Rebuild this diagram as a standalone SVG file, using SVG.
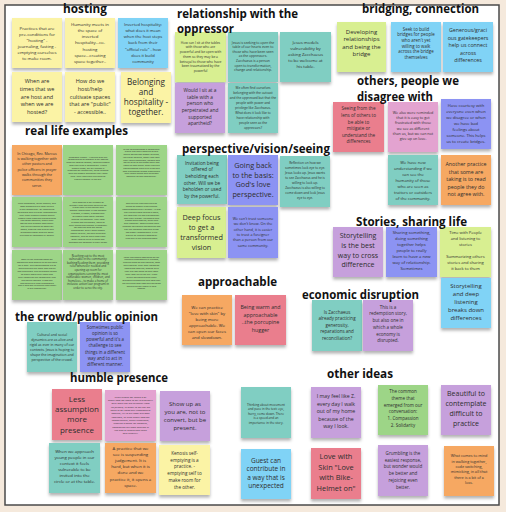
<svg xmlns="http://www.w3.org/2000/svg" width="506" height="512" viewBox="0 0 506 512">
<defs>
<filter id="sh" x="-20%" y="-20%" width="140%" height="150%">
<feDropShadow dx="0" dy="2.5" stdDeviation="1.6" flood-color="#000" flood-opacity="0.3"/>
</filter>
<style>
.n rect{filter:url(#sh)}
.y{fill:#fbf3a5}.b{fill:#80d3f6}.g{fill:#9dd587}.lg{fill:#d8ef91}.o{fill:#f6a862}
.t{fill:#80cec2}.p{fill:#c6a0dc}.pw{fill:#8c93f3}.r{fill:#ea7e8d}.pk{fill:#e3a3d0}
.tx{font-family:"Open Sans","Liberation Sans",sans-serif;fill:#2e2e2e;text-anchor:middle;dominant-baseline:central}
.h{font-family:"Open Sans","Liberation Sans",sans-serif;font-weight:700;font-size:11.7px;fill:#111}
</style>
</defs>
<rect x="0" y="0" width="506" height="512" fill="#f5e9dc"/>
<rect x="5" y="5" width="494" height="500" fill="#ffffff" stroke="#4a4a4a" stroke-width="1.5"/>

<!-- hosting -->
<g id="h1" class="n"><rect class="y" x="12" y="18" width="50" height="50"/>
<text class="tx" font-size="4.3"><tspan x="37" y="27.5">Practices that are</tspan><tspan x="37" y="33.5">pre-conditions for</tspan><tspan x="37" y="39.5">"hosting" -</tspan><tspan x="37" y="45.5">journaling, fasting -</tspan><tspan x="37" y="51.5">emptying ourselves</tspan><tspan x="37" y="57.5">to make room.</tspan></text></g>
<g id="h2" class="n"><rect class="y" x="65" y="18" width="50" height="50"/>
<text class="tx" font-size="4.3"><tspan x="90" y="24.3">Humanity meets in</tspan><tspan x="90" y="30.3">the space of</tspan><tspan x="90" y="36.4">inverted</tspan><tspan x="90" y="42.4">hospitality...co-</tspan><tspan x="90" y="48.5">hosting</tspan><tspan x="90" y="54.5">space...creating</tspan><tspan x="90" y="60.6">space together..</tspan></text></g>
<g id="h3" class="n"><rect class="b" x="118" y="18" width="50" height="50"/>
<text class="tx" font-size="4.1"><tspan x="143" y="24.3">Inverted hospitality:</tspan><tspan x="143" y="30.3">what does it mean</tspan><tspan x="143" y="36.4">when the host steps</tspan><tspan x="143" y="42.4">back from their</tspan><tspan x="143" y="48.5">"official role" - how</tspan><tspan x="143" y="54.5">does it build</tspan><tspan x="143" y="60.6">community</tspan></text></g>
<g id="h4" class="n"><rect class="y" x="12" y="72" width="50" height="50"/>
<text class="tx" font-size="5.5"><tspan x="37" y="80.7">When are</tspan><tspan x="37" y="88.6">times that we</tspan><tspan x="37" y="96.5">are host and</tspan><tspan x="37" y="104.4">when we are</tspan><tspan x="37" y="112.3">hosted?</tspan></text></g>
<g id="h5" class="n"><rect class="y" x="65" y="72" width="50" height="50"/>
<text class="tx" font-size="5.5"><tspan x="90" y="80.7">How do we</tspan><tspan x="90" y="88.6">host/help</tspan><tspan x="90" y="96.5">cultivate spaces</tspan><tspan x="90" y="104.4">that are "public"</tspan><tspan x="90" y="112.3">- accessible..</tspan></text></g>
<g id="h6" class="n"><rect class="y" x="121" y="72" width="50" height="51"/>
<text class="tx" font-size="8.2"><tspan x="146" y="81">Belonging</tspan><tspan x="146" y="90.9">and</tspan><tspan x="146" y="100.8">hospitality -</tspan><tspan x="146" y="110.7">together.</tspan></text></g>

<!-- real life examples -->
<g id="r1" class="n"><rect class="o" x="12" y="145" width="50" height="50"/>
<text class="tx" font-size="3.6"><tspan x="37" y="152.7">In Chicago, Rev. Marcus</tspan><tspan x="37" y="158">is walking together with</tspan><tspan x="37" y="163.3">other pastors and</tspan><tspan x="37" y="168.6">police officers in prayer</tspan><tspan x="37" y="173.9">walks through the</tspan><tspan x="37" y="179.2">communities they</tspan><tspan x="37" y="184.5">serve.</tspan></text></g>
<g id="r2" class="n"><rect class="g" x="63" y="145" width="50" height="50"/>
<text class="tx" font-size="2.3"><tspan x="88" y="156.7">Relational Center - Working with the</tspan><tspan x="88" y="159.45">communities to discover &amp; tell stories</tspan><tspan x="88" y="162.2">through hosting spaces, listening people</tspan><tspan x="88" y="164.95">who can't find a connection. Where</tspan><tspan x="88" y="167.7">people know, we will engage a</tspan><tspan x="88" y="170.45">program on reconciling, being present</tspan><tspan x="88" y="173.2">with the people whenever they need</tspan><tspan x="88" y="175.95">help. They also have churches to</tspan><tspan x="88" y="178.7">ensure nobody is left out.</tspan></text></g>
<g id="r3" class="n"><rect class="g" x="116" y="145" width="51" height="50"/>
<text class="tx" font-size="2.3"><tspan x="141.5" y="148.5">In the neighborhood a community</tspan><tspan x="141.5" y="151.25">group has been meeting to talk</tspan><tspan x="141.5" y="154">about issues that matter to them,</tspan><tspan x="141.5" y="156.75">including housing, safety and jobs.</tspan><tspan x="141.5" y="159.5">They invite neighbors, leaders and</tspan><tspan x="141.5" y="162.25">police to sit at the same table and</tspan><tspan x="141.5" y="165">listen to each other. Over time the</tspan><tspan x="141.5" y="167.75">conversations have built trust and</tspan><tspan x="141.5" y="170.5">new friendships across differences.</tspan><tspan x="141.5" y="173.25">They share meals and celebrate</tspan><tspan x="141.5" y="176">together as one community.</tspan></text></g>
<g id="r4" class="n"><rect class="g" x="12" y="197" width="50" height="50"/>
<text class="tx" font-size="2.3"><tspan x="37" y="203">Faith advocates, youth leaders, and</tspan><tspan x="37" y="205.9">staff members at a local church</tspan><tspan x="37" y="208.8">in the community. By listening to</tspan><tspan x="37" y="211.7">neighbors and building relationships</tspan><tspan x="37" y="214.6">they have created a space where</tspan><tspan x="37" y="217.5">people from different backgrounds</tspan><tspan x="37" y="220.4">can come together, share their</tspan><tspan x="37" y="223.3">stories and support each other.</tspan><tspan x="37" y="226.2">The church opens its doors for</tspan><tspan x="37" y="229.1">meals, tutoring and prayer and</tspan><tspan x="37" y="232">welcomes those who are often</tspan><tspan x="37" y="234.9">excluded or forgotten by others.</tspan></text></g>
<g id="r5" class="n"><rect class="g" x="63" y="197" width="50" height="50"/>
<text class="tx" font-size="2.3"><tspan x="88" y="201.7">This account is for a shape of</tspan><tspan x="88" y="204.55">ministry that has been going on for</tspan><tspan x="88" y="207.4">a long time in the border and</tspan><tspan x="88" y="210.25">among immigrants. It has become</tspan><tspan x="88" y="213.1">a school, a home, a community</tspan><tspan x="88" y="215.95">of people from many nations</tspan><tspan x="88" y="218.8">sharing life together. They host</tspan><tspan x="88" y="221.65">friends and neighbors, listen to</tspan><tspan x="88" y="224.5">their needs and engage in advocacy</tspan><tspan x="88" y="227.35">for families who are facing</tspan><tspan x="88" y="230.2">deportation. Every week people</tspan><tspan x="88" y="233.05">gather to pray, eat and celebrate</tspan><tspan x="88" y="235.9">together, and to learn from each</tspan><tspan x="88" y="238.75">other how to build bridges and</tspan><tspan x="88" y="241.6">welcome the stranger in their midst.</tspan></text></g>
<g id="r6" class="n"><rect class="g" x="116" y="197" width="51" height="50"/>
<text class="tx" font-size="2.3"><tspan x="141.5" y="203">One church has been serving</tspan><tspan x="141.5" y="205.9">meals to people experiencing</tspan><tspan x="141.5" y="208.8">homelessness every Sunday. At first</tspan><tspan x="141.5" y="211.7">they served from behind a table,</tspan><tspan x="141.5" y="214.6">but now they sit and eat together</tspan><tspan x="141.5" y="217.5">with their guests. Volunteers and</tspan><tspan x="141.5" y="220.4">guests share stories, laugh and</tspan><tspan x="141.5" y="223.3">pray together. Some guests have</tspan><tspan x="141.5" y="226.2">become volunteers themselves and</tspan><tspan x="141.5" y="229.1">the line between host and guest</tspan><tspan x="141.5" y="232">has slowly disappeared. It is a</tspan><tspan x="141.5" y="234.9">picture of inverted hospitality</tspan><tspan x="141.5" y="237.8">lived out in the neighborhood.</tspan></text></g>
<g id="r7" class="n"><rect class="g" x="12" y="250" width="50" height="50"/>
<text class="tx" font-size="2.3"><tspan x="37" y="259.3">Back in the neighborhood we</tspan><tspan x="37" y="262.2">wondered who should be at the table</tspan><tspan x="37" y="265.1">for a walk. The conversations led to</tspan><tspan x="37" y="268">walks around the block with police</tspan><tspan x="37" y="270.9">and neighbors. The neighbors began</tspan><tspan x="37" y="273.8">to share about their fears and</tspan><tspan x="37" y="276.7">their hopes for the community and</tspan><tspan x="37" y="279.6">the police listened. It was the</tspan><tspan x="37" y="282.5">beginning of a new relationship</tspan><tspan x="37" y="285.4">and a new way of seeing each other</tspan><tspan x="37" y="288.3">in our community.</tspan></text></g>
<g id="r8" class="n"><rect class="g" x="63" y="250" width="50" height="50"/>
<text class="tx" font-size="2.8"><tspan x="88" y="255.5">Reaching out to the most</tspan><tspan x="88" y="259.1">vulnerable in the community:</tspan><tspan x="88" y="262.7">bathing/feeding them, providing</tspan><tspan x="88" y="266.3">relief whenever needed and</tspan><tspan x="88" y="269.9">opening up room for</tspan><tspan x="88" y="273.5">organizations serving the most</tspan><tspan x="88" y="277.1">vulnerable: women, children, and</tspan><tspan x="88" y="280.7">homeless... to make a home of</tspan><tspan x="88" y="284.3">inclusive action (our program) in</tspan><tspan x="88" y="287.9">order to serve the city.</tspan></text></g>
<g id="r9" class="n"><rect class="g" x="116" y="250" width="51" height="50"/>
<text class="tx" font-size="2.3"><tspan x="141.5" y="256.5">Local volunteers attending to the</tspan><tspan x="141.5" y="259.4">needs of newcomers in Chicago,</tspan><tspan x="141.5" y="262.3">helping them to find housing, food</tspan><tspan x="141.5" y="265.2">and clothing. They walk alongside</tspan><tspan x="141.5" y="268.1">immigrant families, making sure</tspan><tspan x="141.5" y="271">they are not alone as they start</tspan><tspan x="141.5" y="273.9">their new life in the city. Many</tspan><tspan x="141.5" y="276.8">of the volunteers were once</tspan><tspan x="141.5" y="279.7">strangers themselves and now they</tspan><tspan x="141.5" y="282.6">are the ones who host and welcome</tspan><tspan x="141.5" y="285.5">others as they settle in new</tspan><tspan x="141.5" y="288.4">spaces.</tspan></text></g>

<!-- relationship with the oppressor -->
<g id="rel1" class="n"><rect class="lg" x="175" y="32" width="51" height="50"/>
<text class="tx" font-size="3.3"><tspan x="200.5" y="41.7">How can I sit at the tables</tspan><tspan x="200.5" y="46.4">with those who are</tspan><tspan x="200.5" y="51.1">powerful and be open with</tspan><tspan x="200.5" y="55.8">them so they may be a</tspan><tspan x="200.5" y="60.5">betrayal to those who have</tspan><tspan x="200.5" y="65.2">been traumatized by the</tspan><tspan x="200.5" y="69.9">powerful</tspan></text></g>
<g id="rel2" class="n"><rect class="t" x="228" y="32" width="50" height="50"/>
<text class="tx" font-size="3.3"><tspan x="253" y="41.5">Jesus is seeking to open the</tspan><tspan x="253" y="46.1">table of our hearts even to</tspan><tspan x="253" y="50.7">those who have been seen</tspan><tspan x="253" y="55.3">as the oppressors.</tspan><tspan x="253" y="59.9">Zacchaeus is a person</tspan><tspan x="253" y="64.5">open to transformation,</tspan><tspan x="253" y="69.1">change and relationship.</tspan></text></g>
<g id="rel3" class="n"><rect class="t" x="280" y="32" width="51" height="50"/>
<text class="tx" font-size="4.3"><tspan x="305.5" y="41.7">Jesus models</tspan><tspan x="305.5" y="47.8">vulnerability by</tspan><tspan x="305.5" y="53.9">asking Zacchaeus</tspan><tspan x="305.5" y="60">to be welcome at</tspan><tspan x="305.5" y="66.1">his table.</tspan></text></g>
<g id="rel4" class="n"><rect class="p" x="175" y="83" width="50" height="50"/>
<text class="tx" font-size="4.8"><tspan x="200" y="90">Would I sit at a</tspan><tspan x="200" y="96.65">table with a</tspan><tspan x="200" y="103.3">person who</tspan><tspan x="200" y="109.95">perpetrated and</tspan><tspan x="200" y="116.6">supported</tspan><tspan x="200" y="123.25">apartheid?</tspan></text></g>
<g id="rel5" class="n"><rect class="t" x="228" y="83" width="50" height="50"/>
<text class="tx" font-size="3.2"><tspan x="253" y="88.3">We often find ourselves</tspan><tspan x="253" y="93.2">belonging with the outcast</tspan><tspan x="253" y="98.1">and the oppressed but that the</tspan><tspan x="253" y="103">people with power and</tspan><tspan x="253" y="107.9">privilege like Zacchaeus.</tspan><tspan x="253" y="112.8">What does it look like to</tspan><tspan x="253" y="117.7">have relationship with</tspan><tspan x="253" y="122.6">people seen as the</tspan><tspan x="253" y="127.5">oppressors?</tspan></text></g>

<!-- bridging, connection -->
<g id="b1" class="n"><rect class="lg" x="337" y="22" width="49" height="50"/>
<text class="tx" font-size="6"><tspan x="361.5" y="31.7">Developing</tspan><tspan x="361.5" y="39.15">relationships</tspan><tspan x="361.5" y="46.6">and being the</tspan><tspan x="361.5" y="54.05">bridge</tspan></text></g>
<g id="b2" class="n"><rect class="b" x="391" y="22" width="50" height="50"/>
<text class="tx" font-size="4.4"><tspan x="416" y="28.7">Seek to build</tspan><tspan x="416" y="34.3">bridges for people</tspan><tspan x="416" y="39.9">who aren't yet</tspan><tspan x="416" y="45.5">willing to walk</tspan><tspan x="416" y="51.1">across the bridge</tspan><tspan x="416" y="56.7">themselves</tspan></text></g>
<g id="b3" class="n"><rect class="b" x="443" y="22" width="50" height="50"/>
<text class="tx" font-size="5.3"><tspan x="468" y="30">Generous/graci</tspan><tspan x="468" y="37.5">ous gatekeepers</tspan><tspan x="468" y="45">help us connect</tspan><tspan x="468" y="52.5">across</tspan><tspan x="468" y="60">differences</tspan></text></g>

<!-- others -->
<g id="o1" class="n"><rect class="r" x="333" y="102" width="51" height="50"/>
<text class="tx" font-size="4.6"><tspan x="358.5" y="108.3">Seeing from the</tspan><tspan x="358.5" y="114.9">lens of others to</tspan><tspan x="358.5" y="121.5">be able to</tspan><tspan x="358.5" y="128.1">mitigate or</tspan><tspan x="358.5" y="134.7">understand the</tspan><tspan x="358.5" y="141.3">differences</tspan></text></g>
<g id="o2" class="n"><rect class="pk" x="388" y="102" width="50" height="50"/>
<text class="tx" font-size="3.7"><tspan x="413" y="111.7">We also were reminded</tspan><tspan x="413" y="117">that it is easy to get</tspan><tspan x="413" y="122.3">frustrated with those</tspan><tspan x="413" y="127.6">we see as different</tspan><tspan x="413" y="132.9">than us, but we can not</tspan><tspan x="413" y="138.2">give up on love.</tspan></text></g>
<g id="o3" class="n"><rect class="pw" x="441" y="99" width="50" height="50"/>
<text class="tx" font-size="4.1"><tspan x="466" y="105">Have courtesy with</tspan><tspan x="466" y="111">everyone even when</tspan><tspan x="466" y="117">we disagree or when</tspan><tspan x="466" y="123">we have bad</tspan><tspan x="466" y="129">feelings about</tspan><tspan x="466" y="135">someone. This helps</tspan><tspan x="466" y="141">us to create bridges.</tspan></text></g>
<g id="o4" class="n"><rect class="t" x="388" y="155" width="50" height="50"/>
<text class="tx" font-size="4.1"><tspan x="413" y="161.7">We have new</tspan><tspan x="413" y="167.7">understanding if we</tspan><tspan x="413" y="173.7">can see the</tspan><tspan x="413" y="179.7">humanity of those</tspan><tspan x="413" y="185.7">who are seen as</tspan><tspan x="413" y="191.7">traitors or outsiders</tspan><tspan x="413" y="197.7">of the community.</tspan></text></g>
<g id="o5" class="n"><rect class="o" x="441" y="155" width="50" height="50"/>
<text class="tx" font-size="5.3"><tspan x="466" y="164">Another practice</tspan><tspan x="466" y="171.5">that some are</tspan><tspan x="466" y="179">taking is to read</tspan><tspan x="466" y="186.5">people they do</tspan><tspan x="466" y="194">not agree with.</tspan></text></g>

<!-- perspective -->
<g id="p1" class="n"><rect class="t" x="177" y="155" width="50" height="49"/>
<text class="tx" font-size="4.7"><tspan x="202" y="162.7">Invitation being</tspan><tspan x="202" y="169.35">offered of</tspan><tspan x="202" y="176">beholding each</tspan><tspan x="202" y="182.65">other.  Will we be</tspan><tspan x="202" y="189.3">beholden or used</tspan><tspan x="202" y="195.95">by the powerful.</tspan></text></g>
<g id="p2" class="n"><rect class="pw" x="228" y="155" width="50" height="50"/>
<text class="tx" font-size="7.3"><tspan x="253" y="164.7">Going back</tspan><tspan x="253" y="174.5">to the basis:</tspan><tspan x="253" y="184.3">God's love</tspan><tspan x="253" y="194.1">perspective.</tspan></text></g>
<g id="p3" class="n"><rect class="t" x="280" y="156" width="50" height="51"/>
<text class="tx" font-size="3.2"><tspan x="305" y="162.7">Reflection on how we</tspan><tspan x="305" y="167.7">sometimes look eye to eye.</tspan><tspan x="305" y="172.7">Jesus looks up. Jesus wants</tspan><tspan x="305" y="177.7">to see Zacchaeus and he is</tspan><tspan x="305" y="182.7">willing to look up.</tspan><tspan x="305" y="187.7">Zacchaeus is also willing to</tspan><tspan x="305" y="192.7">come down and look Jesus</tspan><tspan x="305" y="197.7">eye to eye.</tspan></text></g>
<g id="p4" class="n"><rect class="lg" x="177" y="207" width="49" height="51"/>
<text class="tx" font-size="7.3"><tspan x="201.5" y="216.7">Deep focus</tspan><tspan x="201.5" y="226.7">to get a</tspan><tspan x="201.5" y="236.7">transformed</tspan><tspan x="201.5" y="246.7">vision</tspan></text></g>
<g id="p5" class="n"><rect class="pw" x="228" y="207" width="50" height="51"/>
<text class="tx" font-size="3.7"><tspan x="253" y="217.7">We can't trust someone</tspan><tspan x="253" y="223.1">we don't know. On the</tspan><tspan x="253" y="228.5">other hand, it is easier</tspan><tspan x="253" y="233.9">to trust a foreigner</tspan><tspan x="253" y="239.3">than a person from our</tspan><tspan x="253" y="244.7">same community.</tspan></text></g>

<!-- stories -->
<g id="s1" class="n"><rect class="p" x="333" y="227" width="50" height="50"/>
<text class="tx" font-size="7"><tspan x="358" y="235">Storytelling</tspan><tspan x="358" y="244.8">is the best</tspan><tspan x="358" y="254.6">way to cross</tspan><tspan x="358" y="264.4">difference</tspan></text></g>
<g id="s2" class="n"><rect class="pw" x="386" y="227" width="51" height="50"/>
<text class="tx" font-size="4.2"><tspan x="411.5" y="231.7">Sharing something,</tspan><tspan x="411.5" y="237.8">doing something</tspan><tspan x="411.5" y="243.9">together helps</tspan><tspan x="411.5" y="250">people to really</tspan><tspan x="411.5" y="256.1">learn to have a new</tspan><tspan x="411.5" y="262.2">way of relationship.</tspan><tspan x="411.5" y="268.3">Sometimes</tspan></text></g>
<g id="s3" class="n"><rect class="lg" x="440" y="227" width="51" height="50"/>
<text class="tx" font-size="4.1"><tspan x="465.5" y="231.7">Time with People</tspan><tspan x="465.5" y="237.7">and listening to</tspan><tspan x="465.5" y="243.7">stories</tspan><tspan x="465.5" y="255.7">Summarizing others</tspan><tspan x="465.5" y="261.7">stories and sharing</tspan><tspan x="465.5" y="267.7">it back to them</tspan></text></g>
<g id="s4" class="n"><rect class="b" x="441" y="278" width="50" height="50"/>
<text class="tx" font-size="6"><tspan x="466" y="285.7">Storytelling</tspan><tspan x="466" y="293.7">and deep</tspan><tspan x="466" y="301.7">listening</tspan><tspan x="466" y="309.7">breaks down</tspan><tspan x="466" y="317.7">differences</tspan></text></g>

<!-- approachable -->
<g id="a1" class="n"><rect class="o" x="182" y="295" width="50" height="50"/>
<text class="tx" font-size="4.3"><tspan x="207" y="306.7">We can practice</tspan><tspan x="207" y="312.7">"love with skin" by</tspan><tspan x="207" y="318.7">being more</tspan><tspan x="207" y="324.7">approachable. We</tspan><tspan x="207" y="330.7">can open our faces</tspan><tspan x="207" y="336.7">and slowdown.</tspan></text></g>
<g id="a2" class="n"><rect class="r" x="235" y="295" width="51" height="50"/>
<text class="tx" font-size="5.3"><tspan x="260.5" y="307.3">Being warm and</tspan><tspan x="260.5" y="314.8">approachable</tspan><tspan x="260.5" y="322.3">..the porcupine</tspan><tspan x="260.5" y="329.8">hugger</tspan></text></g>

<!-- economic disruption -->
<g id="e1" class="n"><rect class="t" x="312" y="300" width="50" height="51"/>
<text class="tx" font-size="4.5"><tspan x="337" y="311.7">Is Zacchaeus</tspan><tspan x="337" y="318.2">already practicing</tspan><tspan x="337" y="324.7">generosity,</tspan><tspan x="337" y="331.2">reparations and</tspan><tspan x="337" y="337.7">reconciliation?</tspan></text></g>
<g id="e2" class="n"><rect class="p" x="363" y="300" width="50" height="51"/>
<text class="tx" font-size="4.5"><tspan x="388" y="306.7">This is a</tspan><tspan x="388" y="313.4">redemption story,</tspan><tspan x="388" y="320.1">but also one in</tspan><tspan x="388" y="326.8">which a whole</tspan><tspan x="388" y="333.5">economy is</tspan><tspan x="388" y="340.2">disrupted.</tspan></text></g>

<!-- crowd -->
<g id="c1" class="n"><rect class="t" x="27" y="322" width="50" height="50"/>
<text class="tx" font-size="3.5"><tspan x="52" y="333.5">Cultural and social</tspan><tspan x="52" y="338.6">dynamics are as alive and</tspan><tspan x="52" y="343.7">rigid as ever in many of our</tspan><tspan x="52" y="348.8">contexts. Jesus is hoping to</tspan><tspan x="52" y="353.9">shape the imagination and</tspan><tspan x="52" y="359">perspective of the crowd.</tspan></text></g>
<g id="c2" class="n"><rect class="pw" x="80" y="322" width="50" height="50"/>
<text class="tx" font-size="4.4"><tspan x="105" y="326.7">Sometimes public</tspan><tspan x="105" y="332.9">opinion is so</tspan><tspan x="105" y="339.1">powerful and it's a</tspan><tspan x="105" y="345.3">challenge to see</tspan><tspan x="105" y="351.5">things in a different</tspan><tspan x="105" y="357.7">way and to act in</tspan><tspan x="105" y="363.9">different manner.</tspan></text></g>

<!-- humble presence -->
<g id="hu1" class="n"><rect class="r" x="52" y="389" width="50" height="51"/>
<text class="tx" font-size="8"><tspan x="77" y="398">Less</tspan><tspan x="77" y="408.2">assumption</tspan><tspan x="77" y="418.4">more</tspan><tspan x="77" y="428.6">presence</tspan></text></g>
<g id="hu2" class="n"><rect class="pk" x="105" y="390" width="51" height="51"/>
<text class="tx" font-size="2.5"><tspan x="130.5" y="396.5">In our group we talked a lot</tspan><tspan x="130.5" y="399.85">about how we need to get in proximity</tspan><tspan x="130.5" y="403.2">with folks that are different from</tspan><tspan x="130.5" y="406.55">us (others). In order to do that we</tspan><tspan x="130.5" y="409.9">need to set aside our judgemental</tspan><tspan x="130.5" y="413.25">posture, try to put away our own</tspan><tspan x="130.5" y="416.6">language, to think about how we</tspan><tspan x="130.5" y="419.95">communicate, being vulnerable,</tspan><tspan x="130.5" y="423.3">creating a space for dialogue,</tspan><tspan x="130.5" y="426.65">considering our own location in</tspan><tspan x="130.5" y="430">the lens of others and listen</tspan><tspan x="130.5" y="433.35">with humility.</tspan></text></g>
<g id="hu3" class="n"><rect class="p" x="160" y="391" width="50" height="50"/>
<text class="tx" font-size="6"><tspan x="185" y="404">Show up as</tspan><tspan x="185" y="412">you are, not to</tspan><tspan x="185" y="420">convert, but be</tspan><tspan x="185" y="428">present.</tspan></text></g>
<g id="hu4" class="n"><rect class="t" x="49" y="443" width="51" height="50"/>
<text class="tx" font-size="4.3"><tspan x="74.5" y="451.3">When we approach</tspan><tspan x="74.5" y="457.3">young people in our</tspan><tspan x="74.5" y="463.3">context it feels</tspan><tspan x="74.5" y="469.3">vulnerable to be</tspan><tspan x="74.5" y="475.3">invited into the</tspan><tspan x="74.5" y="481.3">circle or at the table.</tspan></text></g>
<g id="hu5" class="n"><rect class="o" x="105" y="443" width="51" height="50"/>
<text class="tx" font-size="4.3"><tspan x="130.5" y="448">A practice that we</tspan><tspan x="130.5" y="454.1">see is suspending</tspan><tspan x="130.5" y="460.2">judgement. It is</tspan><tspan x="130.5" y="466.3">hard, but when it is</tspan><tspan x="130.5" y="472.4">done and we</tspan><tspan x="130.5" y="478.5">practice it, it opens a</tspan><tspan x="130.5" y="484.6">space.</tspan></text></g>
<g id="hu6" class="n"><rect class="y" x="159" y="445" width="51" height="50"/>
<text class="tx" font-size="4.6"><tspan x="184.5" y="453">Kenosis  self-</tspan><tspan x="184.5" y="459.7">emptying is a</tspan><tspan x="184.5" y="466.4">practice.  -</tspan><tspan x="184.5" y="473.1">emptying self to</tspan><tspan x="184.5" y="479.8">make room for</tspan><tspan x="184.5" y="486.5">the other.</tspan></text></g>

<!-- other ideas -->
<g id="ot1" class="n"><rect class="t" x="241" y="387" width="50" height="51"/>
<text class="tx" font-size="3.1"><tspan x="266" y="404.7">Thinking about movement</tspan><tspan x="266" y="409.2">and pace in the text: eye,</tspan><tspan x="266" y="413.7">hurry, come down. There</tspan><tspan x="266" y="418.2">is a speed and an</tspan><tspan x="266" y="422.7">importance in the story.</tspan></text></g>
<g id="ot2" class="n"><rect class="p" x="311" y="387" width="50" height="51"/>
<text class="tx" font-size="5.2"><tspan x="336" y="396.3">I may feel like Z.</tspan><tspan x="336" y="403.8">every day I walk</tspan><tspan x="336" y="411.3">out of my home</tspan><tspan x="336" y="418.8">because of the</tspan><tspan x="336" y="426.3">way I look.</tspan></text></g>
<g id="ot3" class="n"><rect class="g" x="378" y="385" width="50" height="50"/>
<text class="tx" font-size="4.5"><tspan x="403" y="391.3">The common</tspan><tspan x="403" y="398">theme that</tspan><tspan x="403" y="404.7">emerged from our</tspan><tspan x="403" y="411.4">conversation:</tspan><tspan x="403" y="418.1">1. Compassion</tspan><tspan x="403" y="424.8">2. Solidarity</tspan></text></g>
<g id="ot4" class="n"><rect class="p" x="441" y="385" width="50" height="50"/>
<text class="tx" font-size="7"><tspan x="466" y="393">Beautiful to</tspan><tspan x="466" y="403">contemplate</tspan><tspan x="466" y="413">difficult to</tspan><tspan x="466" y="423">practice</tspan></text></g>
<g id="ot5" class="n"><rect class="b" x="241" y="449" width="50" height="50"/>
<text class="tx" font-size="6.5"><tspan x="266" y="459.7">Guest can</tspan><tspan x="266" y="468.2">contribute in</tspan><tspan x="266" y="476.7">a way that is</tspan><tspan x="266" y="485.2">unexpected</tspan></text></g>
<g id="ot6" class="n"><rect class="r" x="311" y="448" width="50" height="51"/>
<text class="tx" font-size="7.4"><tspan x="336" y="456.3">Love with</tspan><tspan x="336" y="466.8">Skin "Love</tspan><tspan x="336" y="477.3">with Bike-</tspan><tspan x="336" y="487.8">Helmet on"</tspan></text></g>
<g id="ot7" class="n"><rect class="p" x="378" y="445" width="50" height="51"/>
<text class="tx" font-size="4.5"><tspan x="403" y="453">Grumbling is the</tspan><tspan x="403" y="459.7">easiest response,</tspan><tspan x="403" y="466.4">but wonder would</tspan><tspan x="403" y="473.1">be better and</tspan><tspan x="403" y="479.8">rejoicing even</tspan><tspan x="403" y="486.5">better.</tspan></text></g>
<g id="ot8" class="n"><rect class="o" x="444" y="446" width="50" height="50"/>
<text class="tx" font-size="3.8"><tspan x="469" y="455.3">What comes to mind</tspan><tspan x="469" y="460.6">in walking together,</tspan><tspan x="469" y="465.9">code switching,</tspan><tspan x="469" y="471.2">mimicking, in all that</tspan><tspan x="469" y="476.5">there is a bit of a</tspan><tspan x="469" y="481.8">loss.</tspan></text></g>

<!-- section titles -->
<g id="titles">
<text class="h" x="63" y="12.5" textLength="44" lengthAdjust="spacingAndGlyphs">hosting</text>
<text class="h" x="177" y="17.5" textLength="121" lengthAdjust="spacingAndGlyphs">relationship with the</text>
<text class="h" x="177" y="33.3" textLength="57" lengthAdjust="spacingAndGlyphs">oppressor</text>
<text class="h" x="362" y="13" textLength="117" lengthAdjust="spacingAndGlyphs">bridging, connection</text>
<text class="h" x="25" y="135" textLength="103" lengthAdjust="spacingAndGlyphs">real life examples</text>
<text class="h" x="357" y="85" textLength="102" lengthAdjust="spacingAndGlyphs">others, people we</text>
<text class="h" x="357" y="101" textLength="76" lengthAdjust="spacingAndGlyphs">disagree with</text>
<text class="h" x="182" y="153" textLength="148" lengthAdjust="spacingAndGlyphs">perspective/vision/seeing</text>
<text class="h" x="356" y="226" textLength="111" lengthAdjust="spacingAndGlyphs">Stories, sharing life</text>
<text class="h" x="198" y="285.5" textLength="79" lengthAdjust="spacingAndGlyphs">approachable</text>
<text class="h" x="302" y="299" textLength="117" lengthAdjust="spacingAndGlyphs">economic disruption</text>
<text class="h" x="15" y="320.5" textLength="143" lengthAdjust="spacingAndGlyphs">the crowd/public opinion</text>
<text class="h" x="70" y="382" textLength="98" lengthAdjust="spacingAndGlyphs">humble presence</text>
<text class="h" x="327" y="378" textLength="66" lengthAdjust="spacingAndGlyphs">other ideas</text>
</g>
</svg>
